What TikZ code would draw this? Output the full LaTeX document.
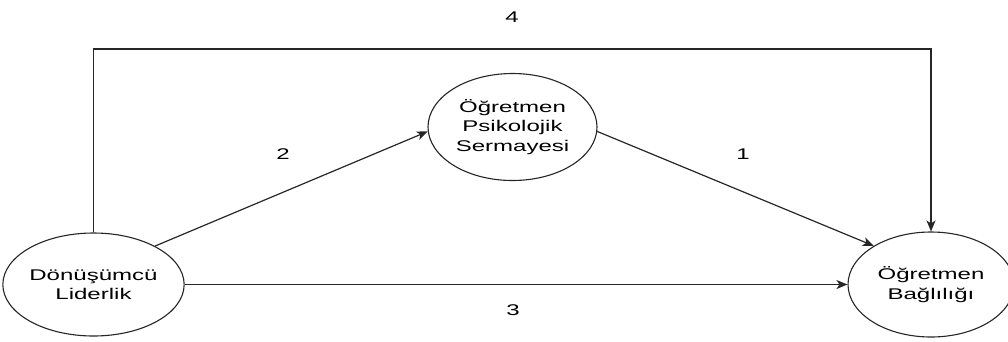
\documentclass[tikz,border=0pt]{standalone}
\usepackage{fontspec}
\usetikzlibrary{shapes.geometric,arrows.meta}
\newfontfamily\widesans[FakeStretch=1.55]{Liberation Sans}
\tikzset{
  construct/.style={ellipse, draw=black!85, line width=1.1pt, fill=white,
    inner sep=0pt, align=center,
    font=\widesans\fontsize{15.5}{19.5}\selectfont},
  link/.style={draw=black!85, line width=1.2pt,
    -{Stealth[length=11pt,width=9pt,inset=3pt]}},
  pathlabel/.style={font=\widesans\fontsize{15.5}{19.5}\selectfont, inner sep=0pt}
}
\begin{document}
\begin{tikzpicture}[x=1pt,y=-1pt]
  \useasboundingbox (0,0) rectangle (1008,341);

  % the three constructs
  \node[construct, minimum width=173pt, minimum height=103pt] (L) at (93.5,284.5)
    {Dönüşümcü\\Liderlik};
  \node[construct, minimum width=169pt, minimum height=107pt] (T) at (512.5,127)
    {Öğretmen\\Psikolojik\\Sermayesi};
  \node[construct, minimum width=166pt, minimum height=105pt] (R) at (931,284.5)
    {Öğretmen\\Bağlılığı};

  % corner height of the direct path over the top
  \coordinate (top) at (512,49);

  % paths
  \draw[link] (L.32) -- (T.183);
  \draw[link] (T.357) -- (R.146);
  \draw[link] (L.east) -- (R.west);
  \draw[link] (L.north) |- (top) -| (R.north);

  % path numbers
  \node[pathlabel] (n1) at (743,154) {1};
  \node[pathlabel] (n2) at (283,154) {2};
  \node[pathlabel] (n3) at (513,310) {3};
  \node[pathlabel] (n4) at (512,17) {4};
\end{tikzpicture}
\end{document}
